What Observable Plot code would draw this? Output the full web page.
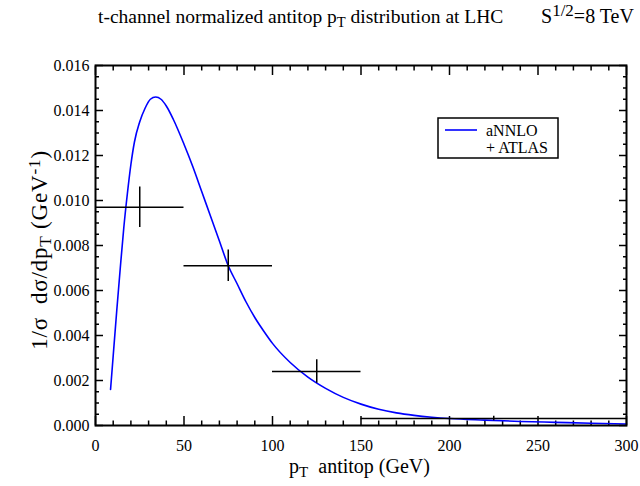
<!DOCTYPE html>
<html><head><meta charset="utf-8">
<script src="https://cdn.jsdelivr.net/npm/d3@7"></script>
<script src="https://cdn.jsdelivr.net/npm/@observablehq/plot@0.6"></script>
<style>body{margin:0;background:#fff;} svg{display:block}</style>
</head><body><div id="chart"></div>
<script>
// theory curve (aNNLO)
const curvePt  = [8.5, 10, 12, 14, 16, 18, 20, 22, 25, 28, 31, 34, 37, 40, 44, 50, 55, 60, 65, 70, 75, 80, 85, 90, 95, 100, 110, 120, 130, 140, 150, 160, 170, 180, 190, 200, 220, 240, 260, 280, 300];
const curveVal = [0.0016, 0.0031, 0.0051, 0.0070, 0.0088, 0.0103, 0.0116, 0.0126, 0.0135, 0.0141, 0.0145, 0.0146, 0.0145, 0.0142, 0.0136, 0.0125, 0.0115, 0.0104, 0.0093, 0.0082, 0.0071, 0.0063, 0.0055, 0.0048, 0.0042, 0.00365, 0.0028, 0.00215, 0.00165, 0.00125, 0.00095, 0.00072, 0.00056, 0.00045, 0.00037, 0.00031, 0.00024, 0.00018, 0.00014, 0.0001, 0.00007];
// ATLAS data
const binCenter = [25, 75, 125, 225];
const binLow    = [0, 50, 100, 150];
const binHigh   = [50, 100, 150, 300];
const atlasVal  = [0.0097, 0.0071, 0.0024, 0.00031];
const atlasErr  = [0.0009, 0.0007, 0.00052, 0.0001];
// ticks
const xMajor = [0, 50, 100, 150, 200, 250, 300];
const xMinor = [10,20,30,40,60,70,80,90,110,120,130,140,160,170,180,190,210,220,230,240,260,270,280,290];
const yMajor = [0, 0.002, 0.004, 0.006, 0.008, 0.010, 0.012, 0.014, 0.016];
const yMinor = [0.0005,0.001,0.0015,0.0025,0.003,0.0035,0.0045,0.005,0.0055,0.0065,0.007,0.0075,0.0085,0.009,0.0095,0.0105,0.011,0.0115,0.0125,0.013,0.0135,0.0145,0.015,0.0155];

const curve = curvePt.map((x, i) => ({x, y: curveVal[i]}));
const atlas = binCenter.map((x, i) => ({x, lo: binLow[i], hi: binHigh[i], y: atlasVal[i], e: atlasErr[i]}));

const ff = "'Liberation Serif', 'Times New Roman', serif";
const none = () => "";
const plot = Plot.plot({
  width: 640, height: 486,
  marginLeft: 95, marginRight: 14, marginTop: 65, marginBottom: 61,
  style: {fontFamily: ff, fontSize: "16px", color: "black", background: "white"},
  x: {domain: [0, 300]},
  y: {domain: [0, 0.016]},
  marks: [
    Plot.axisX(xMajor, {anchor: "bottom", tickSize: 0, tickPadding: 14, tickFormat: d => d, label: null}),
    Plot.axisY(yMajor, {anchor: "left", tickSize: 0, tickPadding: 6, tickFormat: d3.format(".3f"), label: null}),
    Plot.axisX(xMajor, {anchor: "bottom", tickSize: -9, tickFormat: none, label: null, strokeWidth: 1.5}),
    Plot.axisX(xMinor, {anchor: "bottom", tickSize: -4.5, tickFormat: none, label: null, strokeWidth: 1.5}),
    Plot.axisX(xMajor, {anchor: "top", tickSize: -9, tickFormat: none, label: null, strokeWidth: 1.5}),
    Plot.axisX(xMinor, {anchor: "top", tickSize: -4.5, tickFormat: none, label: null, strokeWidth: 1.5}),
    Plot.axisY(yMajor, {anchor: "left", tickSize: -8, tickFormat: none, label: null, strokeWidth: 1.5}),
    Plot.axisY(yMinor, {anchor: "left", tickSize: -4, tickFormat: none, label: null, strokeWidth: 1.5}),
    Plot.axisY(yMajor, {anchor: "right", tickSize: -8, tickFormat: none, label: null, strokeWidth: 1.5}),
    Plot.axisY(yMinor, {anchor: "right", tickSize: -4, tickFormat: none, label: null, strokeWidth: 1.5}),
    Plot.line(curve, {x: "x", y: "y", stroke: "#0000ff", strokeWidth: 1.6, curve: "monotone-x"}),
    Plot.ruleY(atlas, {y: "y", x1: "lo", x2: "hi", stroke: "black", strokeWidth: 1.5}),
    Plot.ruleX(atlas, {x: "x", y1: d => d.y - d.e, y2: d => d.y + d.e, stroke: "black", strokeWidth: 1.5}),
    Plot.frame({stroke: "black", strokeWidth: 2})
  ]
});
document.getElementById("chart").appendChild(plot);

const svg = d3.select(plot);
function rich(sel, parts, subScale = "75%", supScale = "75%") {
  parts.forEach(p => {
    const [s, kind] = Array.isArray(p) ? p : [p, null];
    const ts = sel.append("tspan").text(s);
    if (kind === "sub") ts.attr("baseline-shift", "-25%").attr("font-size", subScale);
    if (kind === "sup") ts.attr("baseline-shift", "40%").attr("font-size", supScale);
  });
  return sel;
}
const g = svg.append("g").attr("font-family", ff).attr("fill", "black").attr("text-anchor", "start");
rich(g.append("text").attr("x", 98).attr("y", 23).attr("font-size", 19.5).attr("text-anchor", "start"),
  ["t-channel normalized antitop p", ["T", "sub"], " distribution at LHC"]);
rich(g.append("text").attr("x", 541).attr("y", 23).attr("font-size", 20).attr("text-anchor", "start"),
  ["S", ["1/2", "sup"], "=8 TeV"], "75%", "85%");
rich(g.append("text").attr("x", 359.5).attr("y", 473).attr("text-anchor", "middle").attr("font-size", 20),
  ["p", ["T", "sub"], "\u00a0 antitop (GeV)"]);
rich(g.append("text").attr("transform", "translate(47,250) rotate(-90)").attr("text-anchor", "middle")
    .attr("font-size", 23).attr("letter-spacing", 0.8),
  ["1/\u03c3\u00a0 d\u03c3/dp", ["T", "sub"], " (GeV", ["-1", "sup"], ")"]);
// legend
const lg = svg.append("g").attr("font-family", ff).attr("text-anchor", "start");
lg.append("rect").attr("x", 438).attr("y", 118).attr("width", 120).attr("height", 40)
  .attr("fill", "white").attr("stroke", "black").attr("stroke-width", 1.5);
lg.append("line").attr("x1", 445).attr("x2", 477).attr("y1", 130).attr("y2", 130)
  .attr("stroke", "#0000ff").attr("stroke-width", 1.6);
lg.append("text").attr("x", 486).attr("y", 136).attr("font-size", 16).text("aNNLO");
lg.append("text").attr("x", 486).attr("y", 153).attr("font-size", 16).text("+ ATLAS");
</script>
</body></html>
